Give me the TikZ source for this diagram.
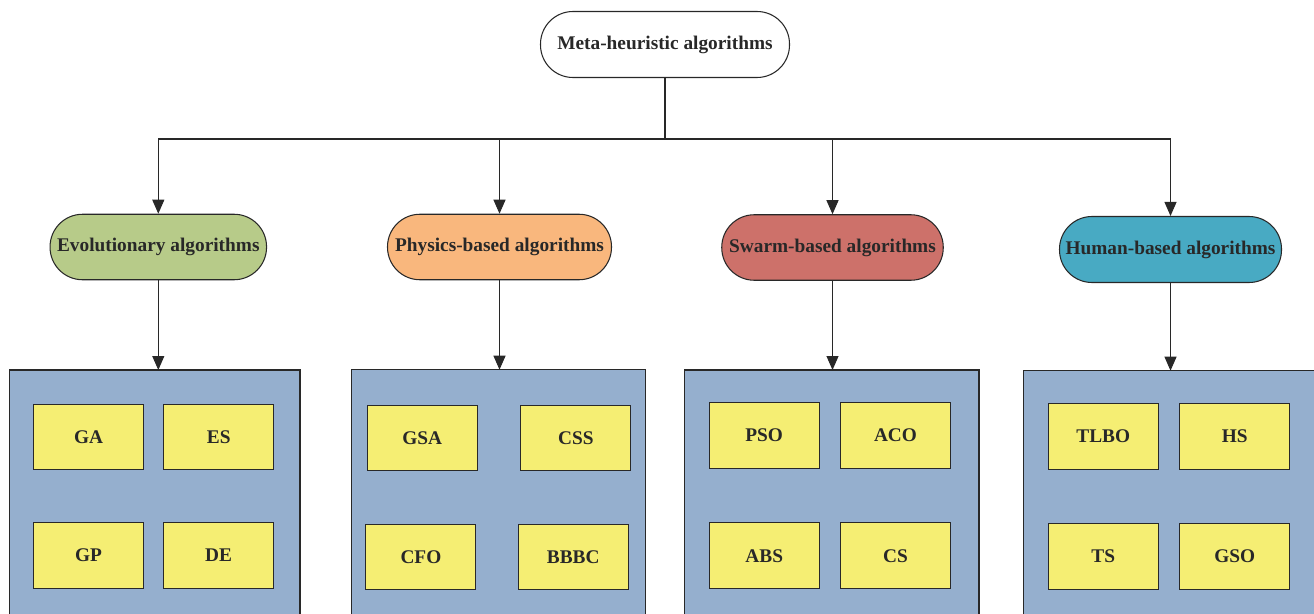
\documentclass[tikz,border=0pt]{standalone}
\usepackage{fontspec}
\setmainfont{Liberation Serif}
\usepackage{tikz}
\usetikzlibrary{arrows.meta}
\definecolor{evogreen}{RGB}{183,203,137}
\definecolor{phyorange}{RGB}{249,183,125}
\definecolor{swared}{RGB}{205,113,106}
\definecolor{humteal}{RGB}{72,170,195}
\definecolor{groupblue}{RGB}{149,175,206}
\definecolor{algyellow}{RGB}{245,238,115}
\definecolor{edgegray}{RGB}{40,40,40}
\begin{document}
\begin{tikzpicture}[>={Triangle[length=0.28cm,width=0.24cm]},
    every node/.style={font=\fontsize{11}{13}\selectfont\bfseries,text=edgegray},
    pill/.style={draw=edgegray,line width=0.6pt,rounded corners=0.65cm,inner sep=0pt,minimum height=1.31cm},
    groupbox/.style={draw=edgegray,line width=0.8pt,fill=groupblue},
    alg/.style={draw=edgegray,line width=0.6pt,fill=algyellow,minimum width=2.2cm,minimum height=1.31cm,inner sep=0pt},
    link/.style={draw=edgegray,line width=0.6pt}]
        \useasboundingbox (0,0) rectangle (26.28,12.26);
        \node[pill,fill=white,minimum width=4.98cm,minimum height=1.32cm] (meta) at (13.30,11.37){Meta-heuristic algorithms};
        \node[pill,fill=evogreen,minimum width=4.33cm] (evo) at (3.166,7.32){Evolutionary algorithms};
        \node[pill,fill=phyorange,minimum width=4.48cm] (phy) at (9.99,7.32){Physics-based algorithms};
        \node[pill,fill=swared,minimum width=4.43cm] (swa) at (16.65,7.31){Swarm-based algorithms};
        \node[pill,fill=humteal,minimum width=4.44cm,minimum height=1.32cm] (hum) at (23.41,7.27){Human-based algorithms};
        % bus line
        \coordinate (bus) at (13.30,9.48);
        \draw[link] (meta.south)--(bus);
        \draw[link] (evo.north|-bus)--(hum.north|-bus);
        \foreach \c in {evo,phy,swa,hum}
            \draw[link,->] (\c.north|-bus)--(\c.north);
        % group boxes
        \draw[groupbox] (0.186,-0.5) rectangle (6.0,4.86) coordinate (evobox);
        \draw[groupbox] (7.034,-0.5) rectangle (12.914,4.866) coordinate (phybox);
        \draw[groupbox] (13.686,-0.5) rectangle (19.58,4.86) coordinate (swabox);
        \draw[groupbox] (20.466,-0.5) rectangle (26.8,4.846) coordinate (humbox);
        \draw[link,->] (evo.south)--(evo.south|-evobox);
        \draw[link,->] (phy.south)--(phy.south|-phybox);
        \draw[link,->] (swa.south)--(swa.south|-swabox);
        \draw[link,->] (hum.south)--(hum.south|-humbox);
        % algorithms
        \node[alg] (ga) at (1.77,3.52){GA};
        \node[alg] (es) at (4.374,3.52){ES};
        \node[alg] (gp) at (1.77,1.15){GP};
        \node[alg] (de) at (4.37,1.15){DE};
        \node[alg] (gsa) at (8.446,3.496){GSA};
        \node[alg] (css) at (11.518,3.496){CSS};
        \node[alg] (cfo) at (8.418,1.12){CFO};
        \node[alg] (bbbc) at (11.464,1.12){BBBC};
        \node[alg] (pso) at (15.284,3.55){PSO};
        \node[alg] (aco) at (17.91,3.55){ACO};
        \node[alg] (abs) at (15.284,1.146){ABS};
        \node[alg] (cs) at (17.91,1.146){CS};
        \node[alg] (tlbo) at (22.064,3.53){TLBO};
        \node[alg] (hs) at (24.694,3.53){HS};
        \node[alg] (ts) at (22.064,1.134){TS};
        \node[alg] (gso) at (24.694,1.134){GSO};
    \end{tikzpicture}
\end{document}
